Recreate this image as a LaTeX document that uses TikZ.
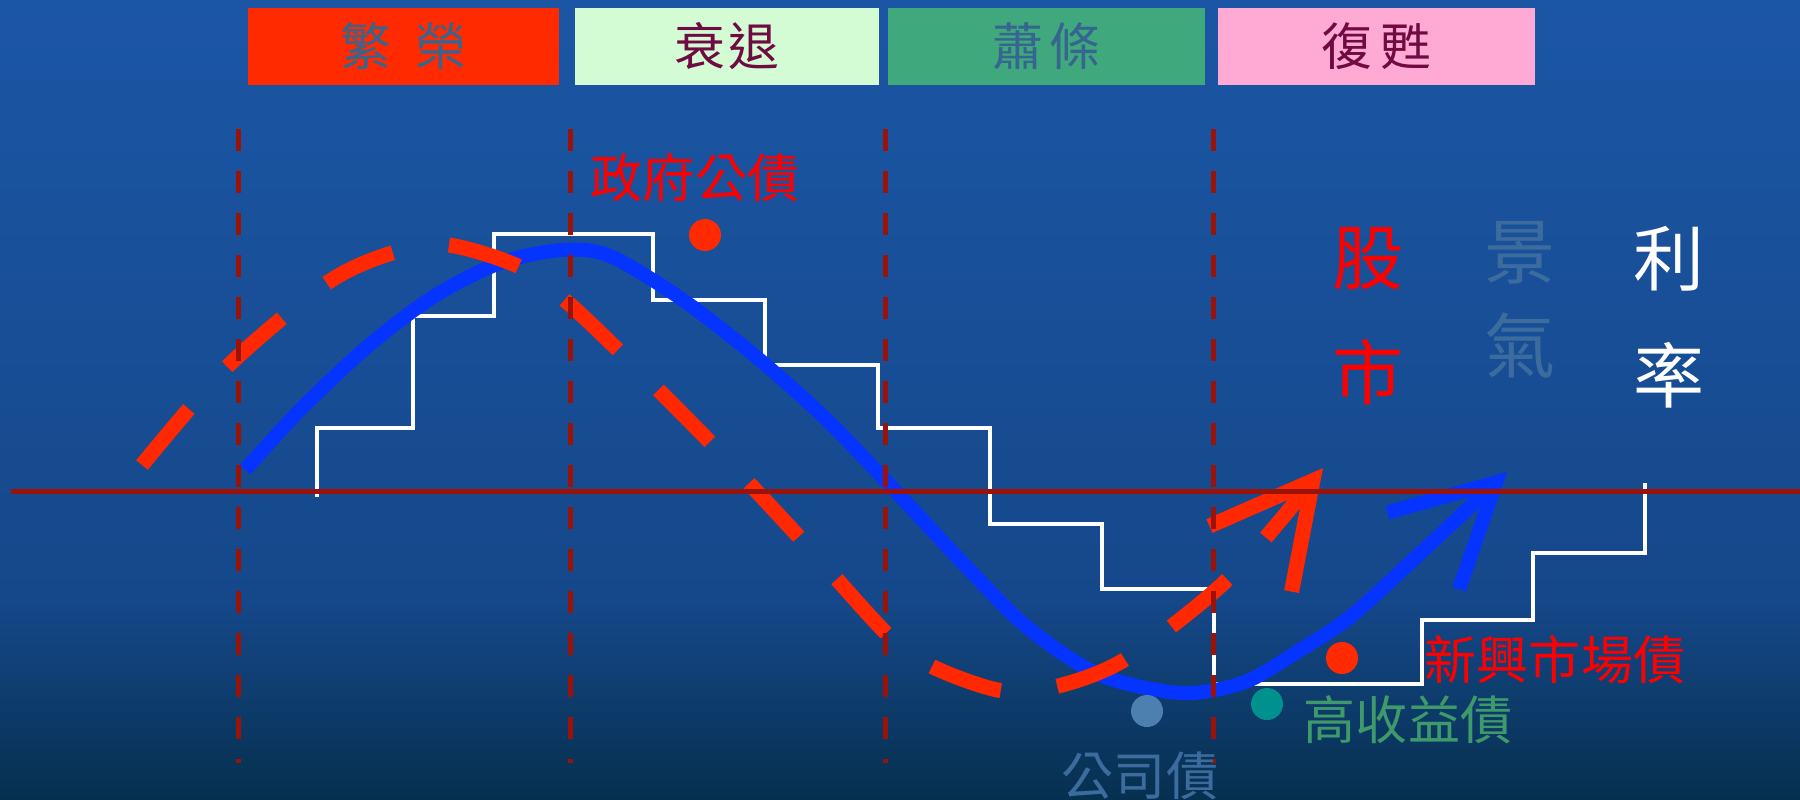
\documentclass[tikz,border=0pt]{standalone}
\usepackage{fontspec}
\newfontfamily\cjk{Noto Sans CJK TC}
\usetikzlibrary{arrows.meta, positioning}
\definecolor{bg_top}{HTML}{1B56A5}
\definecolor{bg_mid}{HTML}{15488A}
\definecolor{bg_bottom}{HTML}{06304F}
\definecolor{boom_red}{HTML}{FF2A00}
\definecolor{fall_green}{HTML}{D4FCD4}
\definecolor{low_green}{HTML}{3FA87C}
\definecolor{rise_pink}{HTML}{FFAAD4}
\definecolor{slate_text}{HTML}{36658F}
\definecolor{wine_text}{HTML}{700A42}
\definecolor{dark_red}{HTML}{9A1208}
\definecolor{econ_blue}{HTML}{0533FF}
\definecolor{stock_red}{HTML}{FF2800}
\definecolor{econ_text}{HTML}{3C6C9E}
\definecolor{hy_green}{HTML}{3E9A6B}
\definecolor{hy_teal}{HTML}{00908E}
\definecolor{corp_blue}{HTML}{4D7FAF}
\tikzset{
    phase_box/.style={rectangle, inner sep=0pt, minimum height=0.77cm, text centered, font=\cjk\fontsize{14.5}{16}\selectfont},
    bond_label/.style={inner sep=0pt, text centered, font=\cjk\fontsize{14.8}{16}\selectfont},
    big_label/.style={inner sep=0pt, align=center},
    bond_dot/.style={circle, inner sep=0pt, minimum size=0.32cm},
    axis_line/.style={draw=dark_red, line width=0.05cm},
    phase_line/.style={draw=dark_red, line width=0.05cm, dash pattern=on 0.22cm off 0.20cm},
    rate_line/.style={draw=white, line width=0.045cm},
    econ_curve/.style={draw=econ_blue, line width=0.14cm, -{Straight Barb[length=1.0cm, width=1.05cm]}},
    stock_curve/.style={draw=stock_red, line width=0.15cm, dash pattern=on 0.73cm off 0.57cm, -{Straight Barb[length=1.0cm, width=1.05cm]}},
}

\begin{document}
\begin{tikzpicture}[x=0.01cm, y=-0.01cm]
      \useasboundingbox (0,0) rectangle (1800,799);
      \shade [top color=bg_top, bottom color=bg_mid] (0,0) rectangle (1800,600);
      \shade [top color=bg_mid, bottom color=bg_bottom] (0,599) rectangle (1800,799);

      \node (phase_1) at (403.5,46.5) [phase_box, fill=boom_red, minimum width=3.11cm, text=slate_text]{繁\hspace{0.24cm}榮};
      \node (phase_2) at (727,46.5) [phase_box, fill=fall_green, minimum width=3.03cm, text=wine_text]{衰\hspace{0.03cm}退};
      \node (phase_3) at (1046.5,46.5) [phase_box, fill=low_green, minimum width=3.17cm, text=slate_text]{蕭\hspace{0.06cm}條};
      \node (phase_4) at (1376.5,46.5) [phase_box, fill=rise_pink, minimum width=3.17cm, text=wine_text]{復\hspace{0.09cm}甦};

      \draw [rate_line] (317,497) -- (317,428) -- (413,428) -- (413,316) -- (494,316) -- (494,234)
            -- (653,234) -- (653,300) -- (765,300) -- (765,365) -- (878,365) -- (878,428)
            -- (990,428) -- (990,524) -- (1102,524) -- (1102,589) -- (1214,589) -- (1214,684)
            -- (1422,684) -- (1422,620) -- (1533,620) -- (1533,553) -- (1645,553) -- (1645,483);

      \draw [econ_curve] plot [smooth] coordinates {(245,470) (300,410) (367,347) (433,297) (500,263)
            (562,250) (610,256) (683,300) (760,360) (827,420) (887,482) (960,560) (1027,627)
            (1100,675) (1182,693) (1245,682) (1300,650) (1350,617) (1413,560) (1507,472)};

      \draw [stock_curve] plot [smooth] coordinates {(142,465) (227,367) (327,283) (392,253) (448,245)
            (520,267) (567,302) (618,350) (710,442) (800,538) (888,635) (933,667) (1003,691)
            (1062,685) (1129,657) (1230,577) (1323,468)};

      \node (gov_dot) at (705,235) [bond_dot, fill=boom_red]{};
      \node (em_dot) at (1342,658) [bond_dot, fill=boom_red]{};
      \node (hy_dot) at (1267,704) [bond_dot, fill=hy_teal]{};
      \node (corp_dot) at (1147,711) [bond_dot, fill=corp_blue]{};

      \coordinate (axis_l) at (11,491);
      \coordinate (axis_r) at (1800,491);
      \draw [axis_line] (axis_l) -- (axis_r);

      \draw [phase_line] (238,129) -- (238,763);
      \draw [phase_line] (570,129) -- (570,763);
      \draw [phase_line] (885,129) -- (885,763);
      \draw [phase_line] (1213,129) -- (1213,763);

      \node (gov_bond) at (695,178) [bond_label, text=red]{政府公債};
      \node (em_bond) at (1555,660) [bond_label, text=red]{新興市場債};
      \node (hy_bond) at (1408,720) [bond_label, text=hy_green]{高收益債};
      \node (corp_bond) at (1140,776) [bond_label, text=econ_text]{公司債};

      \node (stock_label) at (1368,316) [big_label, text=red, font=\cjk\fontsize{20.2}{32.7}\selectfont]{股\\市};
      \node (econ_label) at (1520,300) [big_label, text=econ_text, font=\cjk\fontsize{20.2}{26.7}\selectfont]{景\\氣};
      \node (rate_label) at (1669,317) [big_label, text=white, font=\cjk\fontsize{20.2}{33.3}\selectfont]{利\\率};
\end{tikzpicture}
\end{document}
